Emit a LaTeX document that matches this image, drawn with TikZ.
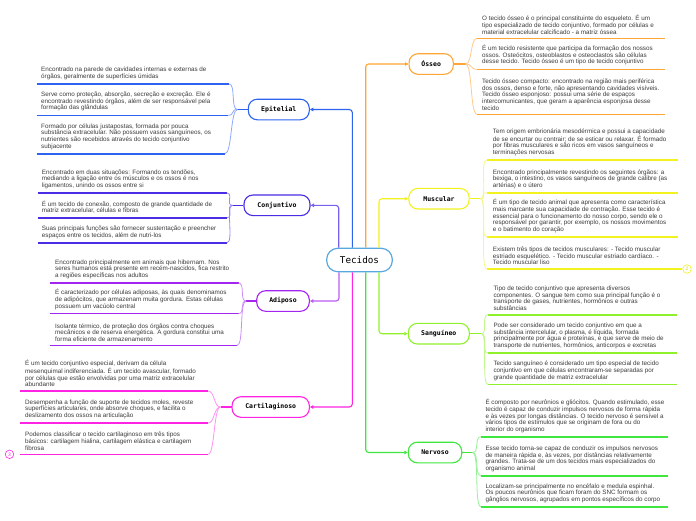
\documentclass[tikz,border=0pt]{standalone}
\usepackage{fontspec}
\setmainfont{Liberation Sans}
\newfontfamily\monof{DejaVu Sans Mono}
\usetikzlibrary{arrows.meta}
\definecolor{cEpi}{HTML}{2D63F0}
\definecolor{cEpiL}{HTML}{8FAAFA}
\definecolor{cCon}{HTML}{4B2DE6}
\definecolor{cConL}{HTML}{A08CF5}
\definecolor{cAdi}{HTML}{A424F0}
\definecolor{cAdiL}{HTML}{CE8EF7}
\definecolor{cCar}{HTML}{FF24E4}
\definecolor{cCarL}{HTML}{FF92F2}
\definecolor{cOss}{HTML}{FFA534}
\definecolor{cOssL}{HTML}{FFCB8C}
\definecolor{cMus}{HTML}{F2F21E}
\definecolor{cMusL}{HTML}{F6F68C}
\definecolor{cMusD}{HTML}{D8D810}
\definecolor{cSan}{HTML}{8FF02C}
\definecolor{cSanL}{HTML}{C2F68E}
\definecolor{cNer}{HTML}{3EE63E}
\definecolor{cNerL}{HTML}{98F098}
\definecolor{cTec}{HTML}{5AA8E2}
\definecolor{txt}{HTML}{3C3C3C}
\tikzset{
  leaf/.style={font=\fontsize{6.3}{6.7}\selectfont, text=txt, align=left, inner sep=0pt, anchor=south west},
  uline/.style={line width=1.6pt},
  branch/.style={line width=0.8pt},
  stem/.style={line width=1.1pt},
  topic/.style={draw, line width=1.1pt, rounded corners=9pt, fill=white, minimum height=20.6pt,
    font=\monof\bfseries\fontsize{6.5}{7}\selectfont, inner sep=0pt},
  conn/.style={line width=1.1pt, rounded corners=3pt, -{Triangle[length=3.5pt,width=3.5pt]}},
  badge/.style={circle, line width=0.6pt, fill=white, inner sep=0pt, minimum size=8.5pt,
    font=\fontsize{5}{5}\selectfont}
}
\newcommand\lf[7]{%
  \node[leaf] (#1) at (#5,#4-3.8) {#7};
  \coordinate (#1l) at (#2,#4);
  \coordinate (#1r) at (#3,#4);
  \draw[uline,#6] (#1l) -- (#1r);}
\newcommand\bl[3]{\draw[branch,#3] (#1) .. controls +(-7,0) and +(7,0) .. (#2r);}
\newcommand\br[3]{\draw[branch,#3] (#1) .. controls +(7,0) and +(-7,0) .. (#2l);}
\begin{document}
\begin{tikzpicture}[x=1pt,y=-1pt]
\fill[white] (0,0) rectangle (696,520);
\useasboundingbox (0,0) rectangle (696,520);

% central
\node[draw=cTec, line width=1.2pt, rounded corners=11pt, fill=white, minimum width=65.6pt, minimum height=23.4pt,
  font=\monof\fontsize{9.3}{10}\selectfont, inner sep=0pt] (tec) at (359.5,260) {Tecidos};

% topics
\node[topic, draw=cEpi, minimum width=61pt] (epi) at (278.8,109.5) {Epitelial};
\node[topic, draw=cCon, minimum width=66pt] (con) at (277,205.3) {Conjuntivo};
\node[topic, draw=cAdi, minimum width=52.6pt] (adi) at (283,301) {Adiposo};
\node[topic, draw=cCar, minimum width=77.3pt] (car) at (270.7,407) {Cartilaginoso};
\node[topic, draw=cOss, minimum width=44.3pt] (oss) at (431.2,64) {Ósseo};
\node[topic, draw=cMus, minimum width=60.3pt] (mus) at (439,198.7) {Muscular};
\node[topic, draw=cSan, minimum width=61pt] (san) at (438.8,333.7) {Sanguíneo};
\node[topic, draw=cNer, minimum width=53.4pt] (ner) at (435,452.5) {Nervoso};

% connectors
\draw[conn, cEpi] ([xshift=-7.2pt]tec.north) |- (epi.east);
\draw[conn, cCon!75] ([xshift=-20.8pt]tec.north) |- (con.east);
\draw[conn, cOss] ([xshift=6.2pt]tec.north) |- (oss.west);
\draw[conn, cMus] ([xshift=19.5pt]tec.north) |- (mus.west);
\draw[conn, cAdi!75] ([xshift=-20.5pt]tec.south) |- (adi.east);
\draw[conn, cCar] ([xshift=-7.2pt]tec.south) |- (car.east);
\draw[conn, cNer] ([xshift=6.2pt]tec.south) |- (ner.west);
\draw[conn, cSan] ([xshift=19.5pt]tec.south) |- (san.west);

% junctions
\coordinate (epiJ) at ([xshift=-10.3pt]epi.west);
\coordinate (conJ) at ([xshift=-11pt]con.west);
\coordinate (adiJ) at ([xshift=-10pt]adi.west);
\coordinate (carJ) at ([xshift=-11pt]car.west);
\coordinate (ossJ) at ([xshift=11.6pt]oss.east);
\coordinate (musJ) at ([xshift=10.8pt]mus.east);
\coordinate (sanJ) at ([xshift=11.4pt]san.east);
\coordinate (nerJ) at ([xshift=10.3pt]ner.east);
\draw[stem,cEpi] (epi.west) -- (epiJ);
\draw[stem,cCon] (con.west) -- (conJ);
\draw[stem,cAdi] (adi.west) -- (adiJ);
\draw[stem,cCar] (car.west) -- (carJ);
\draw[stem,cOss] (oss.east) -- (ossJ);
\draw[stem,cMus] (mus.east) -- (musJ);
\draw[stem,cSan] (san.east) -- (sanJ);
\draw[stem,cNer] (ner.east) -- (nerJ);

% Epitelial
\lf{e1}{36.7}{229}{84}{41}{cEpi}{Encontrado na parede de cavidades internas e externas de\\órgãos, geralmente de superfícies úmidas}
\lf{e2}{36.7}{228}{115.3}{41}{cEpi}{Serve como proteção, absorção, secreção e excreção. Ele é\\encontrado revestindo órgãos, além de ser responsável pela\\formação das glândulas}
\lf{e3}{36.7}{225}{153.7}{41}{cEpi}{Formado por células justapostas, formada por pouca\\substância extracelular. Não possuem vasos sanguíneos, os\\nutrientes são recebidos através do tecido conjuntivo\\subjacente}
\bl{epiJ}{e1}{cEpiL}\bl{epiJ}{e2}{cEpiL}\bl{epiJ}{e3}{cEpiL}

% Conjuntivo
\lf{c1}{37.7}{226.7}{193}{41.7}{cCon}{Encontrado em duas situações: Formando os tendões,\\mediando a ligação entre os músculos e os ossos é nos\\ligamentos, unindo os ossos entre si}
\lf{c2}{37.7}{227}{217.7}{41.7}{cCon}{É um tecido de conexão, composto de grande quantidade de\\matriz extracelular, células e fibras}
\lf{c3}{37.7}{227}{242.7}{41.7}{cCon}{Suas principais funções são fornecer sustentação e preencher\\espaços entre os tecidos, além de nutri-los}
\bl{conJ}{c1}{cConL}\bl{conJ}{c2}{cConL}\bl{conJ}{c3}{cConL}

% Adiposo
\lf{a1}{50}{238.5}{283}{55}{cAdi}{Encontrado principalmente em animais que hibernam. Nos\\seres humanos está presente em recém-nascidos, fica restrito\\a regiões específicas nos adultos}
\lf{a2}{50}{238.5}{313.5}{55}{cAdi}{É caracterizado por células adiposas, às quais denominamos\\de adipócitos, que armazenam muita gordura. Estas células\\possuem um vacúolo central}
\lf{a3}{50}{237}{345.5}{55}{cAdi}{Isolante térmico, de proteção dos órgãos contra choques\\mecânicos e de reserva energética. A gordura constitui uma\\forma eficiente de armazenamento}
\bl{adiJ}{a1}{cAdiL}\bl{adiJ}{a2}{cAdiL}\bl{adiJ}{a3}{cAdiL}

% Cartilaginoso
\lf{k1}{20}{208}{391}{25}{cCar}{É um tecido conjuntivo especial, derivam da célula\\mesenquimal indiferenciada. É um tecido avascular, formado\\por células que estão envolvidas por uma matriz extracelular\\abundante}
\lf{k2}{20}{208}{423}{25}{cCar}{Desempenha a função de suporte de tecidos moles, reveste\\superfícies articulares, onde absorve choques, e facilita o\\deslizamento dos ossos na articulação}
\lf{k3}{20}{208}{454.3}{25}{cCar}{Podemos classificar o tecido cartilaginoso em três tipos\\básicos: cartilagem hialina, cartilagem elástica e cartilagem\\fibrosa}
\bl{carJ}{k1}{cCarL}\bl{carJ}{k2}{cCarL}\bl{carJ}{k3}{cCarL}
\node[badge, draw=cCar, text=cCar] (kb) at (9.5,454.3) {3};

% Osseo
\lf{o1}{477}{665}{38.3}{482}{cOss}{O tecido ósseo é o principal constituinte do esqueleto. É um\\tipo especializado de tecido conjuntivo, formado por células e\\material extracelular calcificado - a matriz óssea}
\lf{o2}{477}{665}{69.3}{482}{cOss}{É um tecido resistente que participa da formação dos nossos\\ossos. Osteócitos, osteoblastos e osteoclastos são células\\desse tecido. Tecido ósseo é um tipo de tecido conjuntivo}
\lf{o3}{477}{665}{114.3}{482}{cOss}{Tecido ósseo compacto: encontrado na região mais periférica\\dos ossos, denso e forte, não apresentando cavidades visíveis.\\Tecido ósseo esponjoso: possui uma série de espaços\\intercomunicantes, que geram a aparência esponjosa desse\\tecido}
\br{ossJ}{o1}{cOssL}\br{ossJ}{o2}{cOssL}\br{ossJ}{o3}{cOssL}

% Muscular
\lf{m1}{486.7}{678}{160}{492.7}{cMus}{Tem origem embrionária mesodérmica e possui a capacidade\\de se encurtar ou contrair; de se esticar ou relaxar. É formado\\por fibras musculares e são ricos em vasos sanguíneos e\\terminações nervosas}
\lf{m2}{486.7}{678}{192.7}{492.7}{cMus}{Encontrado principalmente revestindo os seguintes órgãos: a\\bexiga, o intestino, os vasos sanguíneos de grande calibre (as\\artérias) e o útero}
\lf{m3}{486.7}{678}{237}{492.7}{cMus}{É um tipo de tecido animal que apresenta como característica\\mais marcante sua capacidade de contração. Esse tecido é\\essencial para o funcionamento do nosso corpo, sendo ele o\\responsável por garantir, por exemplo, os nossos movimentos\\e o batimento do coração}
\lf{m4}{486.7}{682}{269}{492.7}{cMus}{Existem três tipos de tecidos musculares: - Tecido muscular\\estriado esquelético. - Tecido muscular estriado cardíaco. -\\Tecido muscular liso}
\br{musJ}{m1}{cMusL}\br{musJ}{m2}{cMusL}\br{musJ}{m3}{cMusL}\br{musJ}{m4}{cMusL}
\node[badge, draw=cMus, text=cMusD] (mb) at (687,269) {2};

% Sanguineo
\lf{s1}{488}{676.7}{314.7}{493.3}{cSan}{Tipo de tecido conjuntivo que apresenta diversos\\componentes. O sangue tem como sua principal função é o\\transporte de gases, nutrientes, hormônios e outras\\substâncias}
\lf{s2}{488}{676.7}{353}{493.3}{cSan}{Pode ser considerado um tecido conjuntivo em que a\\substância intercelular, o plasma, é líquida, formada\\principalmente por água e proteínas, e que serve de meio de\\transporte de nutrientes, hormônios, anticorpos e excretas}
\lf{s3}{488}{676.7}{384.3}{493.3}{cSan}{Tecido sanguíneo é considerado um tipo especial de tecido\\conjuntivo em que células encontraram-se separadas por\\grande quantidade de matriz extracelular}
\br{sanJ}{s1}{cSanL}\br{sanJ}{s2}{cSanL}\br{sanJ}{s3}{cSanL}

% Nervoso
\lf{n1}{481}{668.3}{436.7}{485.3}{cNer}{É composto por neurônios e gliócitos. Quando estimulado, esse\\tecido é capaz de conduzir impulsos nervosos de forma rápida\\e às vezes por longas distâncias. O tecido nervoso é sensível a\\vários tipos de estímulos que se originam de fora ou do\\interior do organismo}
\lf{n2}{481}{668.3}{475.7}{485.3}{cNer}{Esse tecido torna-se capaz de conduzir os impulsos nervosos\\de maneira rápida e, às vezes, por distâncias relativamente\\grandes. Trata-se de um dos tecidos mais especializados do\\organismo animal}
\lf{n3}{481}{668.3}{506.7}{485.3}{cNer}{Localizam-se principalmente no encéfalo e medula espinhal.\\Os poucos neurônios que ficam foram do SNC formam os\\gânglios nervosos, agrupados em pontos específicos do corpo}
\br{nerJ}{n1}{cNerL}\br{nerJ}{n2}{cNerL}\br{nerJ}{n3}{cNerL}
\end{tikzpicture}
\end{document}
